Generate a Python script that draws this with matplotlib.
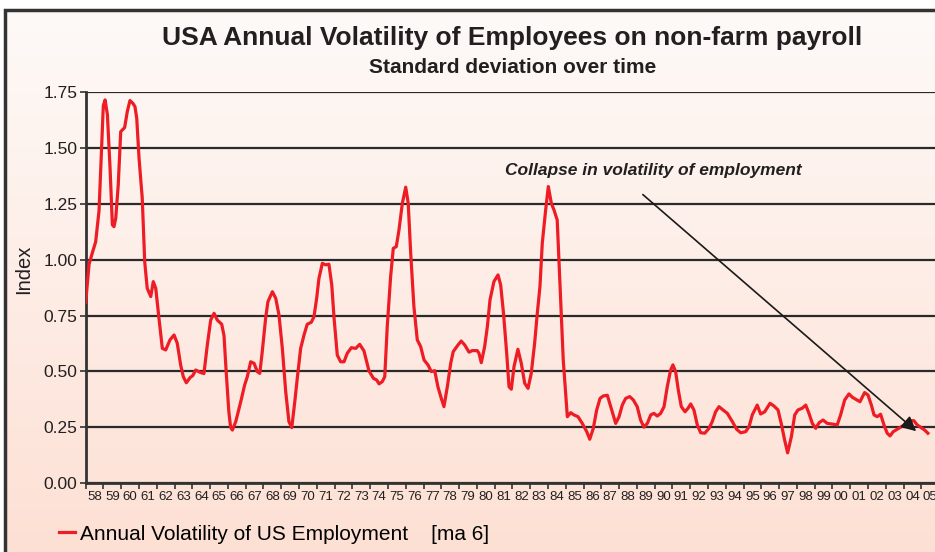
import numpy as np
import matplotlib
matplotlib.use("Agg")
import matplotlib.pyplot as plt
from matplotlib import font_manager
from matplotlib.patches import Rectangle

# Datos (anio decimal, indice de volatilidad)
anios = [
    1958.00, 1958.19, 1958.37, 1958.56, 1958.75, 1958.88, 1958.99, 1959.09, 1959.22, 1959.37,
    1959.50, 1959.59, 1959.69, 1959.83, 1959.97, 1960.19, 1960.34, 1960.49, 1960.66, 1960.77,
    1960.87, 1961.00, 1961.18, 1961.32, 1961.46, 1961.66, 1961.80, 1961.94, 1962.12, 1962.31,
    1962.50, 1962.74, 1962.97, 1963.15, 1963.34, 1963.49, 1963.66, 1963.87, 1964.02, 1964.19,
    1964.43, 1964.65, 1964.84, 1965.03, 1965.22, 1965.40, 1965.65, 1965.78, 1965.90, 1966.05,
    1966.15, 1966.25, 1966.44, 1966.72, 1966.94, 1967.09, 1967.28, 1967.47, 1967.65, 1967.79,
    1967.93, 1968.12, 1968.25, 1968.50, 1968.69, 1968.87, 1969.06, 1969.25, 1969.43, 1969.59,
    1969.76, 1969.90, 1970.09, 1970.28, 1970.46, 1970.69, 1970.84, 1970.99, 1971.12, 1971.31,
    1971.50, 1971.68, 1971.84, 1971.97, 1972.15, 1972.34, 1972.53, 1972.71, 1972.94, 1973.19,
    1973.41, 1973.65, 1973.93, 1974.18, 1974.37, 1974.50, 1974.68, 1974.82, 1974.96, 1975.15,
    1975.30, 1975.47, 1975.62, 1975.81, 1976.00, 1976.14, 1976.28, 1976.46, 1976.65, 1976.84,
    1977.03, 1977.25, 1977.44, 1977.63, 1977.81, 1978.00, 1978.15, 1978.34, 1978.53, 1978.67,
    1978.90, 1979.12, 1979.32, 1979.56, 1979.74, 1980.02, 1980.12, 1980.25, 1980.44, 1980.59,
    1980.74, 1980.96, 1981.19, 1981.34, 1981.50, 1981.68, 1981.81, 1981.94, 1982.09, 1982.31,
    1982.50, 1982.69, 1982.88, 1983.06, 1983.25, 1983.40, 1983.55, 1983.68, 1983.87, 1984.02,
    1984.19, 1984.34, 1984.52, 1984.68, 1984.86, 1985.09, 1985.28, 1985.46, 1985.69, 1985.93,
    1986.18, 1986.35, 1986.55, 1986.74, 1986.93, 1987.11, 1987.34, 1987.53, 1987.81, 1988.00,
    1988.18, 1988.37, 1988.60, 1988.80, 1989.02, 1989.21, 1989.40, 1989.59, 1989.78, 1989.96,
    1990.15, 1990.34, 1990.53, 1990.71, 1990.90, 1991.03, 1991.18, 1991.33, 1991.50, 1991.71,
    1991.88, 1992.03, 1992.21, 1992.40, 1992.59, 1992.82, 1993.06, 1993.24, 1993.43, 1993.62,
    1993.80, 1994.09, 1994.37, 1994.61, 1994.84, 1995.12, 1995.31, 1995.49, 1995.77, 1995.96,
    1996.19, 1996.49, 1996.71, 1996.94, 1997.12, 1997.31, 1997.48, 1997.69, 1997.88, 1998.06,
    1998.30, 1998.50, 1998.68, 1998.87, 1999.06, 1999.25, 1999.47, 1999.71, 1999.99, 2000.27,
    2000.46, 2000.69, 2000.93, 2001.12, 2001.31, 2001.55, 2001.81, 2002.00, 2002.19, 2002.34,
    2002.52, 2002.71, 2002.90, 2003.08, 2003.24, 2003.42, 2003.65, 2003.87, 2004.12, 2004.36,
    2004.58, 2004.77, 2004.99, 2005.19, 2005.37,
]
volatilidad = [
    0.81, 0.98, 1.03, 1.08, 1.22, 1.48, 1.69, 1.716, 1.65, 1.41,
    1.156, 1.148, 1.186, 1.335, 1.574, 1.592, 1.664, 1.713, 1.70, 1.686,
    1.634, 1.455, 1.276, 0.99, 0.872, 0.835, 0.902, 0.872, 0.738, 0.603,
    0.596, 0.641, 0.663, 0.626, 0.529, 0.476, 0.449, 0.472, 0.481, 0.506,
    0.496, 0.490, 0.618, 0.73, 0.76, 0.73, 0.711, 0.66, 0.50, 0.32,
    0.25, 0.237, 0.275, 0.364, 0.439, 0.476, 0.543, 0.536, 0.499, 0.491,
    0.588, 0.738, 0.812, 0.857, 0.827, 0.753, 0.603, 0.409, 0.275, 0.248,
    0.364, 0.469, 0.603, 0.663, 0.711, 0.72, 0.745, 0.827, 0.917, 0.984,
    0.977, 0.98, 0.887, 0.738, 0.573, 0.543, 0.543, 0.581, 0.606, 0.603,
    0.621, 0.592, 0.503, 0.469, 0.461, 0.444, 0.454, 0.476, 0.70, 0.924,
    1.051, 1.059, 1.133, 1.253, 1.325, 1.253, 1.029, 0.79, 0.641, 0.611,
    0.551, 0.529, 0.499, 0.503, 0.431, 0.379, 0.342, 0.431, 0.536, 0.588,
    0.614, 0.636, 0.618, 0.586, 0.593, 0.593, 0.581, 0.539, 0.611, 0.70,
    0.82, 0.902, 0.932, 0.887, 0.76, 0.58, 0.431, 0.42, 0.521, 0.599,
    0.536, 0.447, 0.424, 0.491, 0.626, 0.76, 0.88, 1.074, 1.223, 1.328,
    1.253, 1.223, 1.178, 0.88, 0.551, 0.297, 0.315, 0.305, 0.297, 0.267,
    0.23, 0.196, 0.245, 0.327, 0.379, 0.39, 0.393, 0.342, 0.267, 0.297,
    0.349, 0.379, 0.387, 0.372, 0.342, 0.282, 0.25, 0.267, 0.305, 0.312,
    0.30, 0.312, 0.342, 0.431, 0.506, 0.529, 0.499, 0.417, 0.342, 0.319,
    0.335, 0.354, 0.327, 0.26, 0.225, 0.223, 0.245, 0.275, 0.319, 0.342,
    0.33, 0.312, 0.275, 0.241, 0.225, 0.23, 0.252, 0.305, 0.349, 0.309,
    0.319, 0.357, 0.345, 0.327, 0.267, 0.193, 0.135, 0.207, 0.305, 0.327,
    0.335, 0.349, 0.312, 0.267, 0.245, 0.27, 0.282, 0.267, 0.264, 0.26,
    0.305, 0.372, 0.399, 0.384, 0.375, 0.364, 0.405, 0.394, 0.349, 0.305,
    0.297, 0.308, 0.26, 0.223, 0.211, 0.23, 0.241, 0.252, 0.264, 0.279,
    0.279, 0.26, 0.248, 0.237, 0.223,
]

# Etiquetas del eje x (dos digitos por anio)
anios_eje = list(range(1958, 2006))
etiquetas_x = ["%02d" % (a % 100) for a in anios_eje]
ticks_y = [0.0, 0.25, 0.5, 0.75, 1.0, 1.25, 1.5, 1.75]

# Flecha y texto de la anotacion (coordenadas de datos)
flecha_inicio = (1989.22, 1.30)
flecha_fin = (2004.83, 0.224)
texto_anotacion = "Collapse in volatility of employment"

# Fuente estrecha si esta instalada
nombres = {f.name for f in font_manager.fontManager.ttflist}
if "Liberation Sans Narrow" in nombres:
    estrecha = "Liberation Sans Narrow"
    tam_x, tam_anot = 11, 14
else:
    estrecha = "Liberation Sans"
    tam_x, tam_anot = 9.5, 12.5
normal = "Liberation Sans"

fig = plt.figure(figsize=(9.35, 5.52), dpi=100)
fig.patch.set_facecolor("white")

# Fondo con degradado y marco
fondo = fig.add_axes([5 / 935, 0, 1, 542 / 552], zorder=-10)
grad = np.linspace(0, 1, 256).reshape(-1, 1)
cmap = matplotlib.colors.LinearSegmentedColormap.from_list("bg", ["#fefaf8", "#fde0d4"])
fondo.imshow(grad, aspect="auto", cmap=cmap, extent=[0, 1, 0, 1])
fondo.set_axis_off()
fig.add_artist(Rectangle((5 / 935, -0.05), 1.1, 1.05 - 10 / 552, transform=fig.transFigure,
                         fill=False, edgecolor="#333333", lw=2.5, zorder=5))

# Eje principal
ax = fig.add_axes([85.7 / 935, 69 / 552, 853.4 / 935, 390.7 / 552])
ax.patch.set_alpha(0)
ax.plot(anios, volatilidad, color="#ee1c25", lw=2.3, zorder=3,
        label="Annual Volatility of US Employment    [ma 6]")

ax.set_xlim(1958, 2006)
ax.set_ylim(0, 1.75)
ax.set_yticks(ticks_y)
ax.set_yticklabels(["%.2f" % v for v in ticks_y], fontsize=12.5, family=normal, color="#231f20")
ax.grid(axis="y", color="#2a2a2a", lw=1.6, zorder=1)
ax.set_axisbelow(True)

ax.set_xticks(anios_eje)
ax.set_xticklabels([])
ax.set_xticks([a + 0.5 for a in anios_eje], minor=True)
ax.set_xticklabels(etiquetas_x, minor=True, fontsize=tam_x, family=estrecha, color="#231f20")
ax.tick_params(axis="x", which="major", direction="out", length=4, width=1.2, color="#333333")
ax.tick_params(axis="x", which="minor", length=0, pad=6)
ax.tick_params(axis="y", direction="out", length=4, width=1.2, color="#333333", pad=2)

for lado in ["top", "right"]:
    ax.spines[lado].set_visible(False)
for lado in ["left", "bottom"]:
    ax.spines[lado].set_color("#333333")
    ax.spines[lado].set_linewidth(2)

ax.set_ylabel("Index", fontsize=14.5, family=normal, color="#231f20")
ax.yaxis.set_label_coords(-0.062, 0.548)

# Anotacion con flecha
ax.annotate("", xy=flecha_fin, xytext=flecha_inicio,
            arrowprops=dict(arrowstyle="-|>", color="#1a1a1a", lw=1.2, mutation_scale=22))
ax.text(1989.9, 1.398, texto_anotacion, ha="center", va="center", fontsize=tam_anot,
        family=estrecha, fontweight="bold", fontstyle="italic", color="#231f20")

# Titulos
fig.text(0.548, 0.931, "USA Annual Volatility of Employees on non-farm payroll", ha="center",
         va="center", fontsize=19, fontweight="bold", family=normal, color="#231f20")
fig.text(0.548, 0.877, "Standard deviation over time", ha="center", va="center",
         fontsize=15, fontweight="bold", family=normal, color="#231f20")

# Leyenda
ax.legend(loc="center left", bbox_to_anchor=(40 / 935, 1 - 534 / 552), bbox_transform=fig.transFigure,
          frameon=False, handlelength=0.8, handletextpad=0.2, prop={"family": normal, "size": 15})

fig.savefig("out.png", dpi=100)
